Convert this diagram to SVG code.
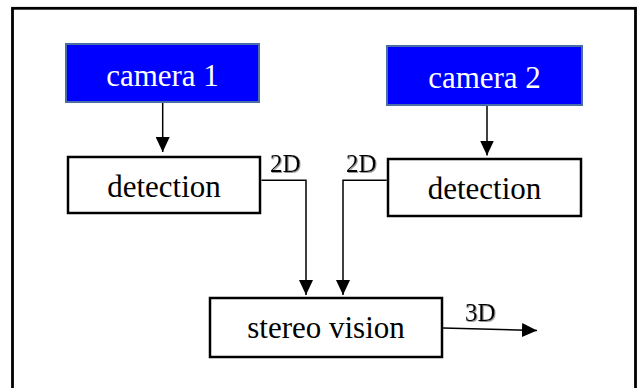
<svg xmlns="http://www.w3.org/2000/svg" width="638" height="388" viewBox="0 0 638 388">
<style>
.cam{fill:#0000FF;stroke:#4A6FA5;stroke-width:2}
.box{fill:#FFFFFF;stroke:#000000;stroke-width:2.5}
.t{font-family:"Liberation Serif","Times New Roman",serif;font-size:31px;text-anchor:middle}
.w{fill:#FFFFFF}
.k{fill:#000000}
.lab{font-family:"Liberation Serif","Times New Roman",serif;font-size:25px;fill:#000000;filter:url(#sh)}
.c{fill:none;stroke:#000000;stroke-width:1.5}
</style>
<defs>
<marker id="ah" markerUnits="userSpaceOnUse" markerWidth="16" markerHeight="14" refX="15" refY="7" orient="auto">
<path d="M0,0 L15,7 L0,14 Z" fill="#000000"/>
</marker>
<filter id="sh" x="-20%" y="-20%" width="150%" height="150%">
<feDropShadow dx="1" dy="1" stdDeviation="0.4" flood-color="#808080" flood-opacity="0.8"/>
</filter>
</defs>
<rect x="12.5" y="8.3" width="623" height="400" fill="#FFFFFF" stroke="#000000" stroke-width="2.8"/>
<g id="camera1">
<rect class="cam" x="66" y="44" width="193" height="58"/>
<text class="t w" x="162.5" y="86">camera 1</text>
</g>
<g id="camera2">
<rect class="cam" x="387" y="46" width="195" height="59"/>
<text class="t w" x="484.5" y="88">camera 2</text>
</g>
<g id="detection1">
<rect class="box" x="68" y="157" width="192" height="56"/>
<text class="t k" x="164" y="197">detection</text>
</g>
<g id="detection2">
<rect class="box" x="388" y="159" width="193" height="57"/>
<text class="t k" x="484.5" y="199">detection</text>
</g>
<g id="stereo">
<rect class="box" x="210" y="298" width="232" height="59"/>
<text class="t k" x="326" y="338">stereo vision</text>
</g>
<g id="connectors">
<line class="c" x1="162.7" y1="103" x2="162.7" y2="152" marker-end="url(#ah)"/>
<line class="c" x1="487" y1="106" x2="487" y2="155.5" marker-end="url(#ah)"/>
<polyline class="c" points="261.5,180.3 306,180.3 306,295" marker-end="url(#ah)"/>
<polyline class="c" points="386.7,180.3 343,180.3 343,295" marker-end="url(#ah)"/>
<line class="c" x1="443" y1="328" x2="537" y2="330.5" marker-end="url(#ah)"/>
<text class="lab" x="270" y="172">2D</text>
<text class="lab" x="346" y="172">2D</text>
<text class="lab" x="465" y="321">3D</text>
</g>
</svg>
